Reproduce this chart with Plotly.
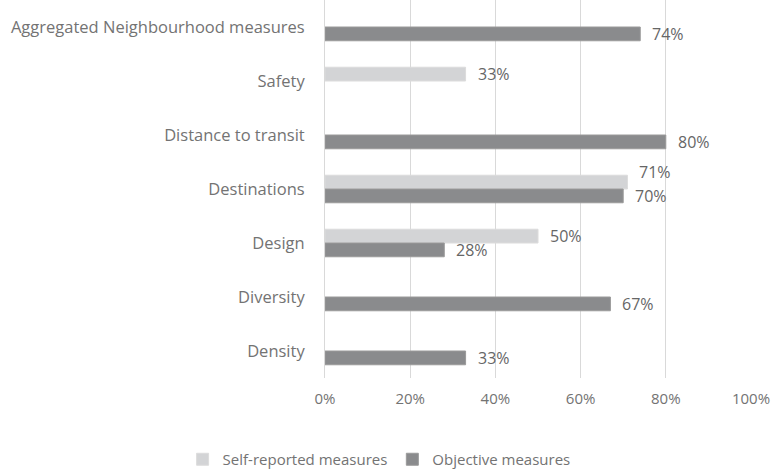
import plotly.graph_objects as go

categories = ["Aggregated Neighbourhood measures", "Safety", "Distance to transit",
              "Destinations", "Design", "Diversity", "Density"]
self_reported = [None, 0.33, None, 0.71, 0.50, None, None]
objective = [0.74, None, 0.80, 0.70, 0.28, 0.67, 0.33]
x_ticks = [0, 0.2, 0.4, 0.6, 0.8, 1.0]
x_tick_labels = ["0%", "20%", "40%", "60%", "80%", "100%"]

FONT = "Open Sans"
TXT = "#737373"
VAL = "#666666"

fig = go.Figure()
fig.add_trace(go.Bar(
    name="Self-reported measures", y=categories, x=self_reported, orientation="h",
    marker=dict(color="#d3d4d6", line=dict(color="#dcdcdc", width=1)),
))
fig.add_trace(go.Bar(
    name="Objective measures", y=categories, x=objective, orientation="h",
    marker=dict(color="#8a8b8d", line=dict(color="#9a9a9a", width=1)),
))

# value labels placed next to each bar end
annotations = []
for cat, s, o in zip(categories, self_reported, objective):
    both_close = s is not None and o is not None and abs(s - o) < 0.05
    if s is not None:
        annotations.append(dict(x=s, y=cat, text="%d%%" % round(s * 100),
                                xanchor="left", yanchor="middle", xshift=10,
                                yshift=7 + (10 if both_close else 0), showarrow=False,
                                font=dict(size=16, color=VAL, family=FONT)))
    if o is not None:
        annotations.append(dict(x=o, y=cat, text="%d%%" % round(o * 100),
                                xanchor="left", yanchor="middle", xshift=10,
                                yshift=-7, showarrow=False,
                                font=dict(size=16, color=VAL, family=FONT)))

fig.update_layout(
    width=771, height=476,
    margin=dict(l=325, r=20, t=0, b=93),
    barmode="group", bargap=0.49, bargroupgap=0,
    plot_bgcolor="white", paper_bgcolor="white",
    font=dict(family=FONT, color=TXT, size=15),
    annotations=annotations,
    hovermode=False,
    xaxis=dict(range=[0, 1.0], tickvals=x_ticks, ticktext=x_tick_labels,
               showgrid=True, gridcolor="#d9d9d9", gridwidth=1, zeroline=False,
               showline=False, ticklabelstandoff=10, fixedrange=True,
               tickfont=dict(size=15, color=TXT, family=FONT)),
    yaxis=dict(categoryorder="array", categoryarray=categories, autorange="reversed",
               showgrid=False, showline=True, linecolor="#d9d9d9", linewidth=1,
               ticklabelstandoff=16, fixedrange=True,
               tickfont=dict(size=16.5, color=TXT, family=FONT)),
    legend=dict(orientation="h", x=0.127, xanchor="center", y=-0.217, yanchor="middle",
                font=dict(size=15, color=TXT, family=FONT), traceorder="normal"),
)

fig.write_html("out.html", config={"displayModeBar": False},
               post_script="document.body.style.margin='0';")
